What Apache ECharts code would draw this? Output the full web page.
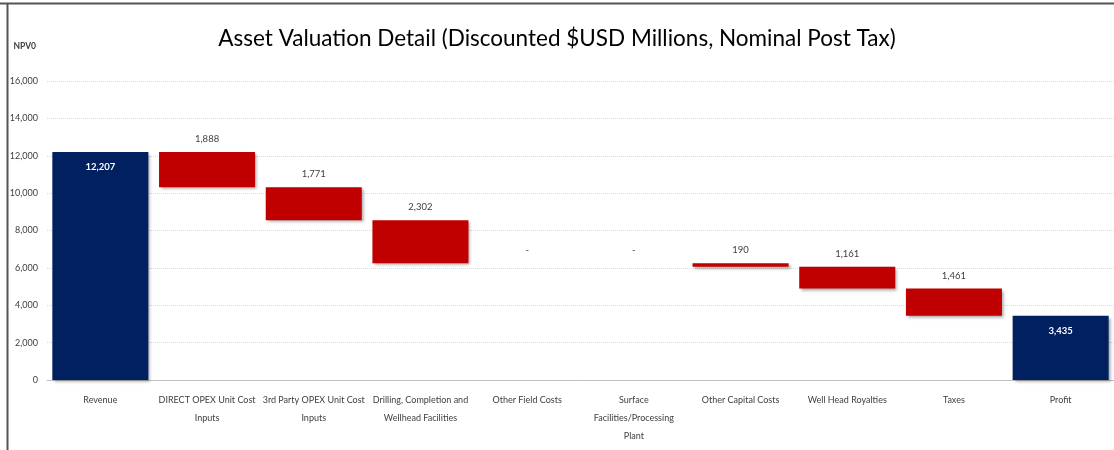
<!DOCTYPE html>
<html>
<head>
<meta charset="utf-8">
<script src="https://cdn.jsdelivr.net/npm/echarts@6/dist/echarts.min.js"></script>
<style>
  html, body { margin: 0; padding: 0; background: #ffffff; }
  #chart { width: 1114px; height: 450px; }
</style>
</head>
<body>
<div id="chart"></div>
<script>
// Waterfall of asset value: revenue, deductions, resulting profit
const categories = [
  'Revenue',
  'DIRECT OPEX Unit Cost\nInputs',
  '3rd Party OPEX Unit Cost\nInputs',
  'Drilling, Completion and\nWellhead Facilities',
  'Other Field Costs',
  'Surface\nFacilities/Processing\nPlant',
  'Other Capital Costs',
  'Well Head Royalties',
  'Taxes',
  'Profit'
];
const amounts = [12207, 1888, 1771, 2302, 0, 0, 190, 1161, 1461, 3435];
const isTotal = [true, false, false, false, false, false, false, false, false, true];
const yTicks = { min: 0, max: 16000, interval: 2000 };

const NAVY = '#002060';
const RED = '#C00000';
const TEXT = '#404040';
const FONT = 'Lato, "Liberation Sans", sans-serif';

// Floating base for each step: running total after the deduction
const baseData = [];
const barData = [];
let running = 0;
amounts.forEach((v, i) => {
  if (isTotal[i]) {
    baseData.push(0);
    running = v;
    barData.push({
      value: v,
      itemStyle: { color: NAVY },
      label: { position: 'insideTop', distance: 10, color: '#ffffff', fontWeight: 'bold' }
    });
  } else {
    running -= v;
    baseData.push(running);
    barData.push({ value: v, itemStyle: { color: RED } });
  }
});

const fmt = n => n.toLocaleString('en-US');

const chart = echarts.init(document.getElementById('chart'), null, { renderer: 'canvas' });
chart.setOption({
  animation: false,
  backgroundColor: '#ffffff',
  title: {
    text: 'Asset Valuation Detail (Discounted $USD Millions, Nominal Post Tax)',
    left: 'center',
    top: 22,
    textStyle: { fontFamily: FONT, fontSize: 22.5, fontWeight: 'normal', color: '#000000' }
  },
  graphic: [
    { type: 'line', shape: { x1: 0, y1: 3.5, x2: 1114, y2: 3.5 }, style: { stroke: '#555555', lineWidth: 2 } },
    { type: 'line', shape: { x1: 7.5, y1: 3, x2: 7.5, y2: 450 }, style: { stroke: '#555555', lineWidth: 2 } }
  ],
  grid: { left: 47, right: 0, top: 81, bottom: 70, containLabel: false },
  xAxis: {
    type: 'category',
    data: categories,
    axisLine: { lineStyle: { color: '#bfbfbf', width: 1 } },
    axisTick: { show: false },
    axisLabel: {
      interval: 0,
      margin: 11,
      color: TEXT,
      fontFamily: FONT,
      fontSize: 9,
      lineHeight: 18
    }
  },
  yAxis: {
    type: 'value',
    min: yTicks.min,
    max: yTicks.max,
    interval: yTicks.interval,
    name: 'NPV0',
    nameLocation: 'end',
    nameGap: 30,
    nameTextStyle: { color: TEXT, fontFamily: FONT, fontSize: 8.5, fontWeight: 'bold', align: 'right', padding: [0, 11, 0, 0] },
    axisLine: { show: false },
    axisTick: { show: false },
    axisLabel: { color: TEXT, fontFamily: FONT, fontSize: 9, margin: 9, formatter: v => fmt(v) },
    splitLine: { lineStyle: { color: '#d9d9d9', type: 'dotted', width: 1 } }
  },
  series: [
    {
      type: 'bar',
      stack: 'wf',
      data: baseData,
      itemStyle: { color: 'transparent' },
      emphasis: { disabled: true },
      barCategoryGap: '10%'
    },
    {
      type: 'bar',
      stack: 'wf',
      data: barData,
      barCategoryGap: '10%',
      itemStyle: {
        shadowColor: 'rgba(0,0,0,0.35)',
        shadowBlur: 3,
        shadowOffsetX: 2,
        shadowOffsetY: 2
      },
      label: {
        show: true,
        fontFamily: FONT,
        fontSize: 9.5,
        formatter: p => (p.value === 0 ? '-' : fmt(p.value)),
        position: 'top',
        distance: 8,
        color: TEXT
      }
    }
  ]
});
</script>
</body>
</html>
